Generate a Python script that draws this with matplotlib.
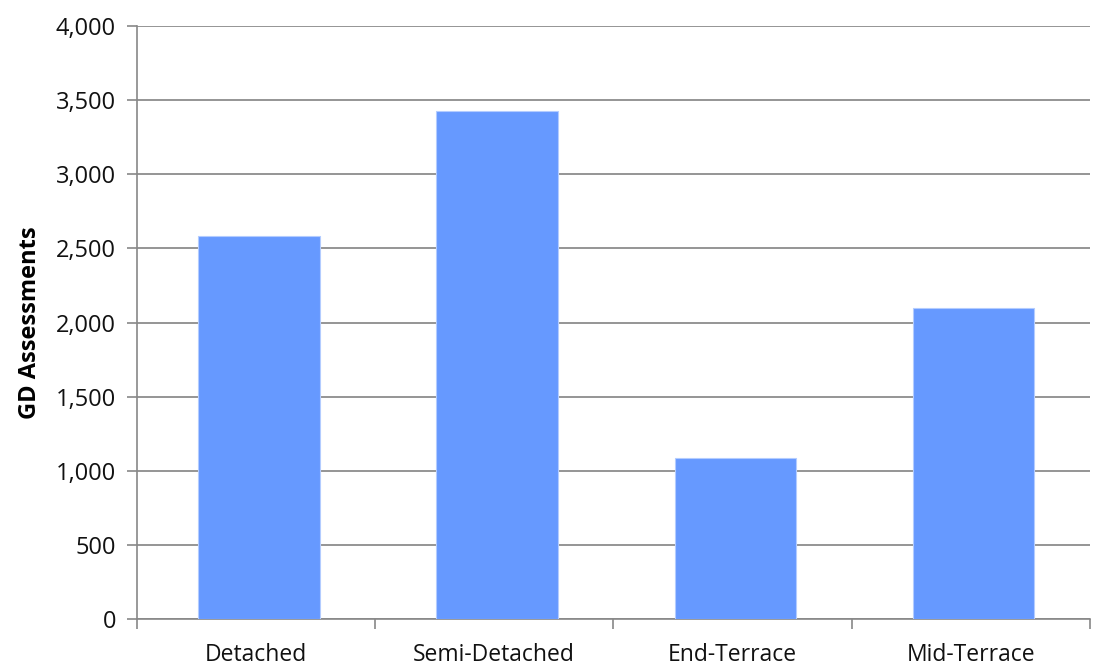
import matplotlib.pyplot as plt
from matplotlib.ticker import FuncFormatter, FixedLocator

categories = ["Detached", "Semi-Detached", "End-Terrace", "Mid-Terrace"]
assessments = [2586, 3425, 1087, 2101]
y_ticks = [0, 500, 1000, 1500, 2000, 2500, 3000, 3500, 4000]

plt.rcParams['font.family'] = ['Open Sans', 'DejaVu Sans']

fig = plt.figure(figsize=(10.93, 6.68), dpi=100)
ax = fig.add_axes([0.1253, 0.0734, 0.8717, 0.8876])

x = [i + 0.012 for i in range(len(categories))]
ax.bar(x, assessments, width=0.51, color='#6699FF', edgecolor='#B3CCFF', linewidth=0.8, zorder=3)

ax.set_xlim(-0.5, len(categories) - 0.5)
ax.set_ylim(0, 4000)
ax.set_yticks(y_ticks)
ax.yaxis.set_major_formatter(FuncFormatter(lambda v, p: f"{int(v):,}"))
ax.set_xticks(list(range(len(categories))))
ax.set_xticklabels(categories)
ax.xaxis.set_minor_locator(FixedLocator([i - 0.5 for i in range(len(categories) + 1)]))

ax.tick_params(axis='x', which='major', length=0, pad=17, labelsize=16.5, labelcolor='#111111')
ax.tick_params(axis='x', which='minor', length=7, color='#888888', width=1.2)
ax.tick_params(axis='y', length=7, color='#888888', width=1.2, labelsize=17, labelcolor='#111111', pad=8)

ax.grid(axis='y', color='#8c8c8c', linewidth=1.3, zorder=0)
for side in ['top', 'right']:
    ax.spines[side].set_visible(False)
for side in ['left', 'bottom']:
    ax.spines[side].set_color('#888888')
    ax.spines[side].set_linewidth(1.2)

ax.set_ylabel("GD Assessments", fontsize=17, fontweight='bold', labelpad=10)

fig.savefig("out.png", dpi=100)
